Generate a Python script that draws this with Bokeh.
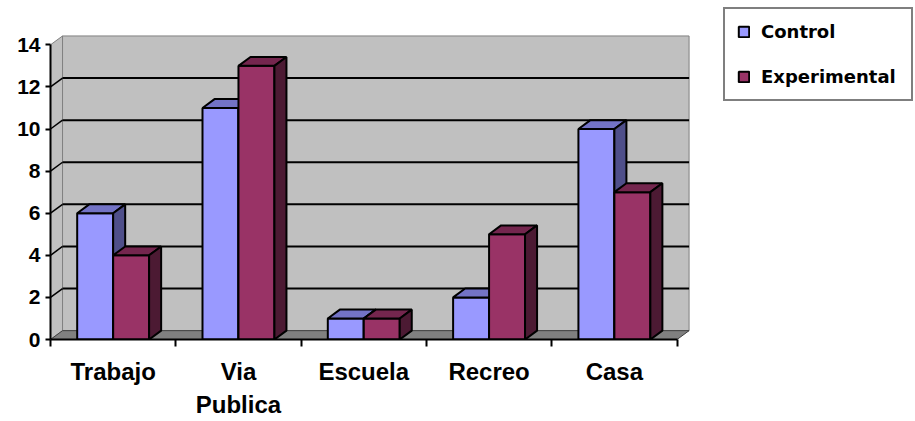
from bokeh.plotting import figure
from bokeh.models import (ColumnDataSource, Range1d, FixedTicker, Legend, LegendItem)
from bokeh.embed import file_html
from bokeh.resources import INLINE

# --- data -------------------------------------------------------------
categories = ["Trabajo", "Via\nPublica", "Escuela", "Recreo", "Casa"]
control = [6, 11, 1, 2, 10]
experimental = [4, 13, 1, 5, 7]
y_ticks = [0, 2, 4, 6, 8, 10, 12, 14]

# --- 3D look parameters (data units) -----------------------------------
DX = 0.096      # depth shift to the right
DY = 0.42       # depth shift upward
BAR_W = 0.287   # width of one bar
Y_MAX = 14
N = len(categories)

# the frame spans to the right and top edges so the legend sits inside it
p = figure(width=915, height=421, output_backend="svg", toolbar_location=None,
           x_range=Range1d(0, 6.903), y_range=Range1d(0, 16.105),
           min_border_left=50, min_border_right=0,
           min_border_top=0, min_border_bottom=77)
p.outline_line_color = None
p.xgrid.visible = False
p.ygrid.visible = False
p.background_fill_color = "white"

# back wall
p.patch([DX, N + DX, N + DX, DX], [DY, DY, Y_MAX + DY, Y_MAX + DY],
        fill_color="#C0C0C0", line_color="#808080", line_width=1)
# left side wall
p.patch([0, DX, DX, 0], [0, DY, Y_MAX + DY, Y_MAX],
        fill_color="#C0C0C0", line_color="#808080", line_width=1)
# floor
p.patch([0, N, N + DX, DX], [0, 0, DY, DY],
        fill_color="#808080", line_color="#404040", line_width=1)

# gridlines on the back wall and their slants on the side wall
grid_vals = [v for v in y_ticks if 0 < v < Y_MAX]
p.segment(x0=[DX] * len(grid_vals), y0=[v + DY for v in grid_vals],
          x1=[N + DX] * len(grid_vals), y1=[v + DY for v in grid_vals],
          line_color="black", line_width=2)
p.segment(x0=[0] * len(grid_vals), y0=grid_vals,
          x1=[DX] * len(grid_vals), y1=[v + DY for v in grid_vals],
          line_color="black", line_width=1.5)


def box_faces(lefts, rights, vals):
    top_xs, top_ys, side_xs, side_ys = [], [], [], []
    for l, r, v in zip(lefts, rights, vals):
        top_xs.append([l, r, r + DX, l + DX])
        top_ys.append([v, v, v + DY, v + DY])
        side_xs.append([r, r + DX, r + DX, r])
        side_ys.append([0, DY, v + DY, v])
    return top_xs, top_ys, side_xs, side_ys


series = [
    ("Control", control, -1, "#9999FF", "#7373C6", "#4F4F8A"),
    ("Experimental", experimental, 0, "#993366", "#74264E", "#4C1A33"),
]

front_renderers = {}
for i in range(N):
    for name, vals, shift, c_front, c_top, c_side in series:
        left = i + 0.5 + shift * BAR_W
        right = left + BAR_W
        v = vals[i]
        src = ColumnDataSource(dict(left=[left], right=[right], top=[v]))
        r = p.quad(left="left", right="right", bottom=0, top="top", source=src,
                   fill_color=c_front, line_color="black", line_width=2)
        front_renderers.setdefault(name, r)
        tx, ty, sx, sy = box_faces([left], [right], [v])
        p.patches(tx, ty, fill_color=c_top, line_color="black", line_width=2)
        p.patches(sx, sy, fill_color=c_side, line_color="black", line_width=2)

# --- axes ---------------------------------------------------------------
yax = p.yaxis[0]
yax.ticker = FixedTicker(ticks=y_ticks)
yax.bounds = (0, Y_MAX)
yax.axis_line_width = 2
yax.major_tick_line_width = 2
yax.major_tick_out = 5
yax.major_tick_in = 0
yax.minor_tick_line_color = None
yax.major_label_standoff = 5
yax.major_label_text_font = "Liberation Sans"
yax.major_label_text_font_style = "bold"
yax.major_label_text_font_size = "21px"
yax.major_label_text_color = "black"

xax = p.xaxis[0]
xax.ticker = FixedTicker(ticks=[i + 0.5 for i in range(N)],
                         minor_ticks=list(range(N + 1)))
xax.bounds = (0, N)
xax.axis_line_width = 2
xax.major_tick_out = 0
xax.major_tick_in = 0
xax.minor_tick_out = 7
xax.minor_tick_in = 0
xax.minor_tick_line_width = 2
xax.major_label_overrides = {i + 0.5: c for i, c in enumerate(categories)}
xax.major_label_standoff = 11
xax.major_label_text_font = "Liberation Sans"
xax.major_label_text_font_style = "bold"
xax.major_label_text_font_size = "24px"
xax.major_label_text_line_height = 1.25
xax.major_label_text_color = "black"

# --- legend -------------------------------------------------------------
legend = Legend(items=[LegendItem(label=name, renderers=[front_renderers[name]])
                       for name, *_ in series],
                location=(673, 238), orientation="vertical",
                padding=12, margin=0, spacing=24,
                glyph_width=13, glyph_height=13, label_standoff=11,
                label_width=138,
                label_text_font="DejaVu Sans", label_text_font_style="bold",
                label_text_font_size="18px", label_text_color="black",
                border_line_color="black", border_line_width=2,
                background_fill_color="white", background_fill_alpha=1)
p.add_layout(legend, "center")

open("out.html", "w").write(file_html(p, INLINE))
